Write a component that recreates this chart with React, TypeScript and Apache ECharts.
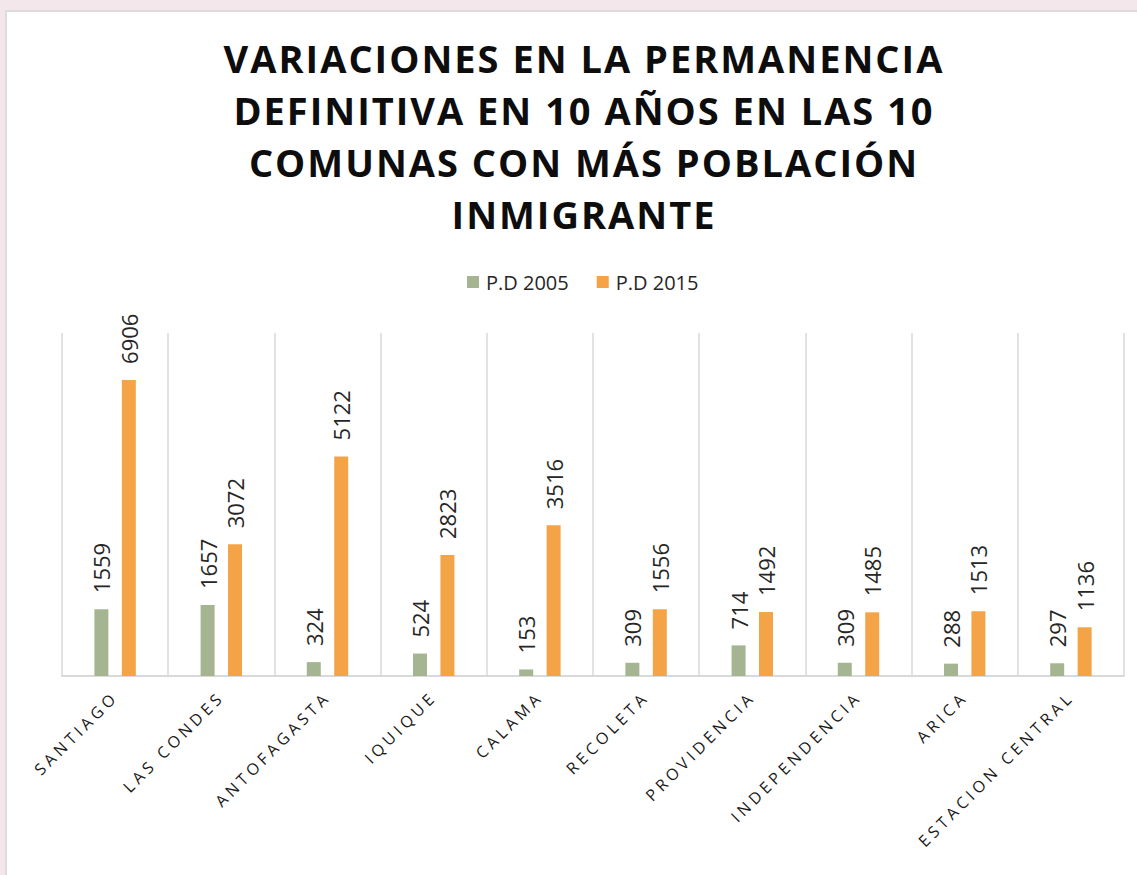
import React, { useEffect, useRef } from "react";
import * as echarts from "echarts";

const categories = [
  "SANTIAGO",
  "LAS CONDES",
  "ANTOFAGASTA",
  "IQUIQUE",
  "CALAMA",
  "RECOLETA",
  "PROVIDENCIA",
  "INDEPENDENCIA",
  "ARICA",
  "ESTACION CENTRAL",
];
const pd2005 = [1559, 1657, 324, 524, 153, 309, 714, 309, 288, 297];
const pd2015 = [6906, 3072, 5122, 2823, 3516, 1556, 1492, 1485, 1513, 1136];
const seriesNames = ["P.D 2005", "P.D 2015"];
const titleText =
  "VARIACIONES EN LA PERMANENCIA\nDEFINITIVA EN 10 AÑOS EN LAS 10\nCOMUNAS CON MÁS POBLACIÓN\nINMIGRANTE";

const GREEN = "#a6b591";
const ORANGE = "#f4a447";
const FONT = "'Open Sans', 'Noto Sans', sans-serif";

const css = `
.chartbox svg text[style*="38px"] { letter-spacing: 2px; }
.chartbox svg text[style*="16px"] { letter-spacing: 4px; }
`;

export default function App() {
  const ref = useRef<HTMLDivElement>(null);

  useEffect(() => {
    if (!ref.current) return;
    const chart = echarts.init(ref.current, null, { renderer: "svg" });
    const labelCfg = {
      show: true,
      position: "top",
      rotate: 90,
      align: "left",
      verticalAlign: "middle",
      distance: 16,
      fontSize: 22,
      fontFamily: FONT,
      color: "#262626",
    };
    chart.setOption({
      animation: false,
      backgroundColor: "transparent",
      title: {
        text: titleText,
        left: 579,
        top: 27,
        textAlign: "center",
        textStyle: {
          fontFamily: FONT,
          fontWeight: "bold",
          fontSize: 38,
          lineHeight: 52,
          color: "#0d0d0d",
        },
      },
      legend: {
        data: seriesNames,
        top: 267,
        left: 462,
        itemWidth: 12,
        itemHeight: 12,
        itemGap: 28,
        icon: "rect",
        textStyle: { fontFamily: FONT, fontSize: 20, color: "#262626", padding: [0, 0, 0, 2] },
      },
      grid: { left: 62, right: 13, top: 333, bottom: 199, containLabel: false },
      xAxis: {
        type: "category",
        data: categories,
        axisLine: { lineStyle: { color: "#d9d9d9", width: 2 } },
        axisTick: { show: false },
        splitLine: { show: true, lineStyle: { color: "#d9d9d9", width: 1.5 } },
        axisLabel: {
          rotate: 45,
          margin: 18,
          interval: 0,
          fontFamily: FONT,
          fontSize: 16,
          color: "#1a1a1a",
        },
      },
      yAxis: {
        type: "value",
        min: 0,
        max: 8000,
        show: false,
        splitLine: { show: false },
      },
      series: [
        {
          name: seriesNames[0],
          type: "bar",
          data: pd2005,
          barWidth: 14,
          barGap: "96%",
          itemStyle: { color: GREEN },
          label: labelCfg,
        },
        {
          name: seriesNames[1],
          type: "bar",
          data: pd2015,
          barWidth: 14,
          barGap: "96%",
          itemStyle: { color: ORANGE },
          label: labelCfg,
        },
      ],
    });
    return () => chart.dispose();
  }, []);

  return (
    <div style={{ position: "fixed", left: 0, top: 0, width: 1137, height: 875, background: "#f4e7ec" }}>
      <style>{css}</style>
      <div
        style={{
          position: "absolute",
          left: 5,
          top: 10,
          width: 1132,
          height: 865,
          background: "#ffffff",
          borderLeft: "2px solid #dcdcdc",
          borderTop: "2px solid #dcdcdc",
          boxSizing: "border-box",
        }}
      />
      <div
        ref={ref}
        className="chartbox"
        style={{ position: "absolute", left: 0, top: 0, width: 1137, height: 875 }}
      />
    </div>
  );
}
